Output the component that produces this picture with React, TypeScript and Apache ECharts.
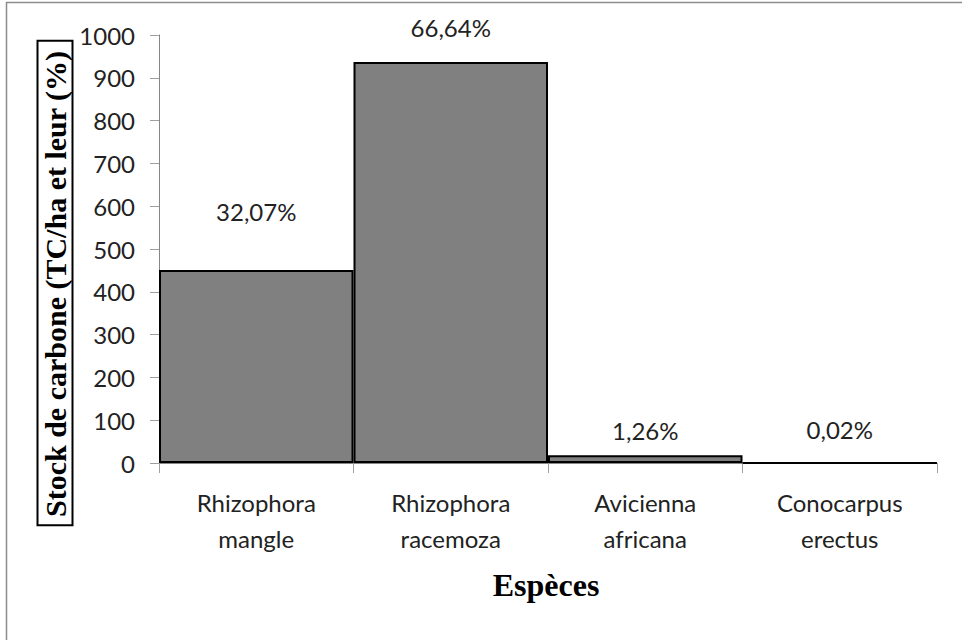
import React, { useEffect, useRef } from "react";
import * as echarts from "echarts";

// Espèces de palétuviers et stock de carbone (TC/ha)
const species = [
  "Rhizophora\nmangle",
  "Rhizophora\nracemoza",
  "Avicienna\nafricana",
  "Conocarpus\nerectus",
];
const carbonStock = [451, 937, 18, 0.3];
const shareLabels = ["32,07%", "66,64%", "1,26%", "0,02%"];
const labelGaps = [46, 22, 13, 20];
const yTicks = { min: 0, max: 1000, interval: 100 };

const SANS = "Lato, 'Open Sans', sans-serif";
const SERIF = "'Liberation Serif', 'DejaVu Serif', serif";

export default function App() {
  const ref = useRef<HTMLDivElement>(null);

  useEffect(() => {
    if (!ref.current) return;
    const chart = echarts.init(ref.current, undefined, { renderer: "svg" });

    chart.setOption({
      animation: false,
      backgroundColor: "#ffffff",
      grid: { left: 159, right: 25, top: 35, bottom: 177, containLabel: false },
      xAxis: {
        type: "category",
        data: species,
        axisLine: { show: true, lineStyle: { color: "#868686", width: 1 } },
        axisTick: { show: true, length: 10, lineStyle: { color: "#a0a0a0" } },
        axisLabel: {
          color: "#222",
          fontFamily: SANS,
          fontSize: 24,
          lineHeight: 36,
          margin: 21,
          interval: 0,
        },
      },
      yAxis: {
        type: "value",
        min: yTicks.min,
        max: yTicks.max,
        interval: yTicks.interval,
        splitLine: { show: false },
        axisLine: { show: true, lineStyle: { color: "#868686", width: 1 } },
        axisTick: { show: true, length: 9, lineStyle: { color: "#a0a0a0" } },
        axisLabel: {
          color: "#222",
          fontFamily: SANS,
          fontSize: 24,
          margin: 24,
          formatter: (v: number) => String(v),
        },
      },
      series: [
        {
          type: "bar",
          barCategoryGap: "0%",
          data: carbonStock.map((v, i) => ({
            value: v,
            label: { distance: labelGaps[i] },
          })),
          itemStyle: { color: "#808080", borderColor: "#000", borderWidth: 2 },
          label: {
            show: true,
            position: "top",
            color: "#222",
            fontFamily: SANS,
            fontSize: 24,
            formatter: (p: any) => shareLabels[p.dataIndex],
          },
        },
      ],
      graphic: [
        {
          type: "rect",
          silent: true,
          shape: { x: 6.5, y: 2.5, width: 1000, height: 700 },
          style: { fill: "none", stroke: "#8c8c8c", lineWidth: 1.5 },
        },
        {
          type: "text",
          x: 55,
          y: 283,
          rotation: Math.PI / 2,
          style: {
            text: "Stock de carbone (TC/ha et leur (%)",
            font: `bold 30px ${SERIF}`,
            fill: "#000",
            align: "center",
            verticalAlign: "middle",
            borderColor: "#000",
            borderWidth: 2,
            padding: [4, 10, 1, 8],
          },
        },
        {
          type: "text",
          x: 546,
          y: 585,
          style: {
            text: "Espèces",
            font: `bold 32px ${SERIF}`,
            fill: "#000",
            align: "center",
            verticalAlign: "middle",
          },
        },
      ],
    });

    return () => chart.dispose();
  }, []);

  return (
    <div
      ref={ref}
      style={{ position: "fixed", left: 0, top: 0, width: 962, height: 640 }}
    />
  );
}
